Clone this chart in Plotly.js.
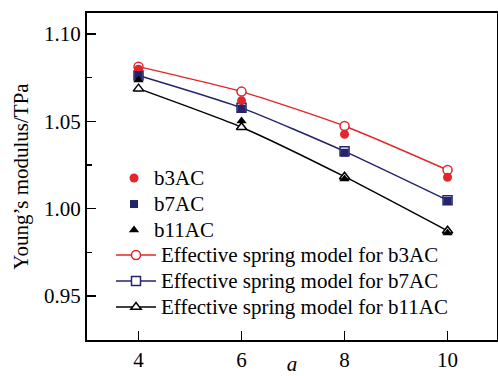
<!DOCTYPE html>
<html>
<head>
<meta charset="utf-8">
<script src="https://cdn.plot.ly/plotly-3.0.1.min.js"></script>
<style>html,body{margin:0;padding:0;background:#fff;}#chart{width:498px;height:376px;}</style>
</head>
<body>
<div id="chart"></div>
<script>
const xVals = [4, 6, 8, 10];
const xTicks = [4, 6, 8, 10];
const b3AC = [1.0798, 1.0618, 1.0426, 1.0180];
const b7AC = [1.0765, 1.0572, 1.0320, 1.0044];
const b11AC = [1.0737, 1.0502, 1.0170, 0.9860];
const model_b3AC = [1.0813, 1.0670, 1.0473, 1.0221];
const model_b7AC = [1.0762, 1.0577, 1.0328, 1.0048];
const model_b11AC = [1.0687, 1.0466, 1.0183, 0.9873];
const seriesNames = ['b3AC', 'b7AC', 'b11AC'];
const modelNames = ['Effective spring model for b3AC', 'Effective spring model for b7AC', 'Effective spring model for b11AC'];

const RED = '#e3262b', BLUE = '#24246e', BLACK = '#000000';
const FONT = 'Times New Roman, Liberation Serif, Tinos, DejaVu Serif, serif';

function big(t) { return '<span style="font-size:21px">' + t + '</span>'; }

function model(name, y, color, symbol) {
  return {x: xVals, y: y, name: big(name), type: 'scatter', mode: 'lines+markers', legend: 'legend2',
    line: {color: color, width: 1.5, shape: 'spline', smoothing: 0.6},
    marker: {symbol: symbol, size: 9, color: '#ffffff', line: {color: color, width: 1.5}}};
}
function data(name, y, color, symbol, size) {
  return {x: xVals, y: y, name: big(name), type: 'scatter', mode: 'markers', legend: 'legend',
    marker: {symbol: symbol, size: size, color: color}};
}

const traces = [
  model(modelNames[0], model_b3AC, RED, 'circle'),
  model(modelNames[1], model_b7AC, BLUE, 'square'),
  model(modelNames[2], model_b11AC, BLACK, 'triangle-up'),
  data(seriesNames[0], b3AC, RED, 'circle', 9),
  data(seriesNames[1], b7AC, BLUE, 'square', 8),
  data(seriesNames[2], b11AC, BLACK, 'triangle-up', 9)
];

const legFont = {family: FONT, size: 17.7, color: '#000'};

const layout = {
  width: 498, height: 376,
  margin: {l: 87, r: 1, t: 13, b: 36},
  paper_bgcolor: '#ffffff', plot_bgcolor: '#ffffff',
  font: {family: FONT, size: 21, color: '#000'},
  showlegend: true,
  legend: {x: (114 - 87) / 410, y: 0.5504, xanchor: 'left', yanchor: 'top', bgcolor: 'rgba(0,0,0,0)',
    font: legFont, tracegroupgap: 0, itemwidth: 30, traceorder: 'normal'},
  legend2: {x: (111 - 87) / 410, y: 0.315, xanchor: 'left', yanchor: 'top', bgcolor: 'rgba(0,0,0,0)',
    font: legFont, tracegroupgap: 0, itemwidth: 40, traceorder: 'normal'},
  xaxis: {
    range: [3.0, 10.96], tickvals: xTicks, ticktext: xTicks.map(String),
    ticks: 'inside', ticklen: 9, tickwidth: 1.5, tickcolor: '#000',
    showline: true, linewidth: 2, linecolor: '#000', mirror: true,
    showgrid: false, zeroline: false,
    tickfont: {family: FONT, size: 21},
    title: {text: '<i>a</i>', font: {family: FONT, size: 21}, standoff: 8}
  },
  yaxis: {
    range: [0.9248, 1.112], tickvals: [0.95, 1.00, 1.05, 1.10], ticktext: ['0.95', '1.00', '1.05', '1.10'],
    ticks: 'inside', ticklen: 9, tickwidth: 1.5, tickcolor: '#000',
    minor: {tickvals: [0.925, 0.975, 1.025, 1.075], ticks: 'inside', ticklen: 5, tickwidth: 1.5, tickcolor: '#000'},
    showline: true, linewidth: 2, linecolor: '#000', mirror: true,
    showgrid: false, zeroline: false,
    tickfont: {family: FONT, size: 21},
    title: {text: 'Young\u2019s modulus/TPa', font: {family: FONT, size: 21}, standoff: 10}
  }
};

Plotly.newPlot('chart', traces, layout, {displayModeBar: false, staticPlot: true});
</script>
</body>
</html>
